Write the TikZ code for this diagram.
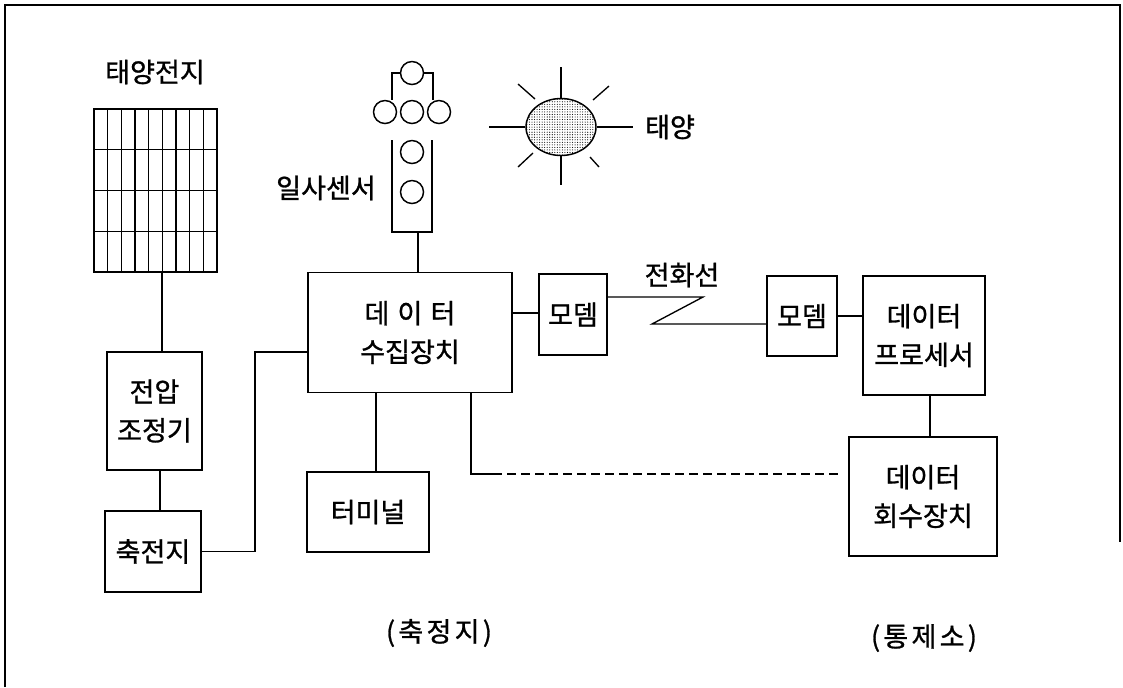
\documentclass[tikz,border=0pt]{standalone}
\usepackage{fontspec}
\setmainfont{Noto Sans CJK KR}[FakeBold=1]
\usetikzlibrary{patterns.meta,shapes.geometric}
\newcommand{\diagfont}{\fontsize{20.3}{29}\selectfont}
\newcommand{\gap}{\hspace{0.3em}}
\newcommand{\tgap}{\hspace{0.12em}}
\begin{document}
\begin{tikzpicture}[x=0.75pt,y=-0.75pt,line width=1.1pt,
  box/.style n args={2}{draw,rectangle,inner sep=0pt,outer sep=0pt,align=center,font=\diagfont,
    minimum width=#1*0.75pt,minimum height=#2*0.75pt},
  lbl/.style={inner sep=0pt,font=\diagfont},
  ray/.style={line width=1pt},
  lamp/.style={draw,circle,minimum size=17.25pt,inner sep=0pt},
  wire/.style={line width=1pt},
  radio/.style={wire,dash pattern=on 6.8pt off 3.7pt}]
\useasboundingbox (0,0) rectangle (1123,687);

% page frame
\draw[line width=1.2pt] (5,687) -- (5,5) -- (1120,5) -- (1120,542);

% solar cell array
\node[box={123}{163}] (panel) at (155.5,190.5) {};
\foreach \i in {1,...,8} \draw[line width=1pt] (94+\i*13.67,109) -- (94+\i*13.67,272);
\foreach \j in {1,2,3} \draw[line width=1pt] (94,109+\j*40.75) -- (217,109+\j*40.75);
\node[lbl] (panelname) at (155,72) {태양전지};

% irradiance sensor
\node[lamp] (l0) at (412,73) {};
\node[lamp] (l1) at (385,112) {};
\node[lamp] (l2) at (412,112) {};
\node[lamp] (l3) at (439,112) {};
\node[lamp] (l4) at (412,152) {};
\node[lamp] (l5) at (412,192) {};
\draw[wire] (l0.west) -| ([xshift=5.25pt]l1.north);
\draw[wire] (l0.east) -| ([xshift=-4.5pt]l3.north);
\coordinate (sb) at (418,232);
\draw (392,140) -- (392,232) -- (432,232) -- (432,140);
\node[lbl] (sensorname) at (326,188) {일사센서};

% sun
\node[draw,ellipse,minimum width=52.5pt,minimum height=42.75pt,inner sep=0pt,
      pattern={Dots[distance=1.9pt,radius=0.42pt]},pattern color=black] (sun) at (561,127) {};
\draw[ray] (sun.north) -- ++(0,-31);
\draw[ray] (sun.south) -- ++(0,29);
\draw[ray] (sun.west) -- ++(-36,0);
\draw[ray] (sun.east) -- ++(36,0);
\draw[ray] (518,84) -- (535,99);
\draw[ray] (593,100) -- (609,86);
\draw[ray] (533,153) -- (518,167);
\draw[ray] (590,157) -- (599,167);
\node[lbl] (sunname) at (670,127) {태양};

% measuring site blocks
\node[box={95}{118}] (reg) at (154.5,411) {전압\\조정기};
\node[box={96}{81}] (bat) at (153,551.5) {축전지};
\node[box={204}{120}] (daq) at (410,332.5) {데\gap 이\gap 터\\수집장치};
\node[box={122}{80}] (term) at (368,512) {터미널};
\node[box={68}{81}] (m1) at (573,314.5) {모뎀};

% control centre blocks
\node[box={70}{80}] (m2) at (802,316) {모뎀};
\node[box={122}{119}] (proc) at (924,335.5) {데이터\\프로세서};
\node[box={148}{119}] (coll) at (923,496.5) {데이터\\회수장치};

% connections
\coordinate (pd) at (162,272);
\draw[wire] (pd) -- (pd |- reg.north);
\coordinate (rd) at (160,470);
\draw[wire] (rd) -- (rd |- bat.north);
\coordinate (bk) at (255,352);
\draw[wire] (bat.east) -| (bk) -- (bk -| daq.west);
\draw[wire] (sb) -- (sb |- daq.north);
\coordinate (dm) at (512,313);
\draw[wire] (dm) -- (dm -| m1.west);
\coordinate (ph1) at (607,297);
\coordinate (ph2) at (703,297);
\coordinate (ph3) at (652,324);
\draw[wire] (ph1) -- (ph2) -- (ph3) -- (ph3 -| m2.west);
\node[lbl] (linename) at (682,275) {전화선};
\coordinate (mp) at (837,316);
\draw[wire] (mp) -- (mp -| proc.west);
\coordinate (pc) at (930,395);
\draw[wire] (pc) -- (pc |- coll.north);
\coordinate (dt) at (376,392.5);
\draw[wire] (dt) -- (dt |- term.north);
\coordinate (dd) at (471,392.5);
\coordinate (dc) at (471,474);
\coordinate (de) at (493,474);
\draw[wire] (dd) -- (dc) -- (de);
\draw[radio] (de) -- ([xshift=-6.75pt]de -| coll.west);

% site captions
\node[lbl] (site1) at (439,633) {(\tgap 축\tgap 정\tgap 지\tgap )};
\node[lbl] (site2) at (924,638) {(\tgap 통\tgap 제\tgap 소\tgap )};
\end{tikzpicture}
\end{document}
